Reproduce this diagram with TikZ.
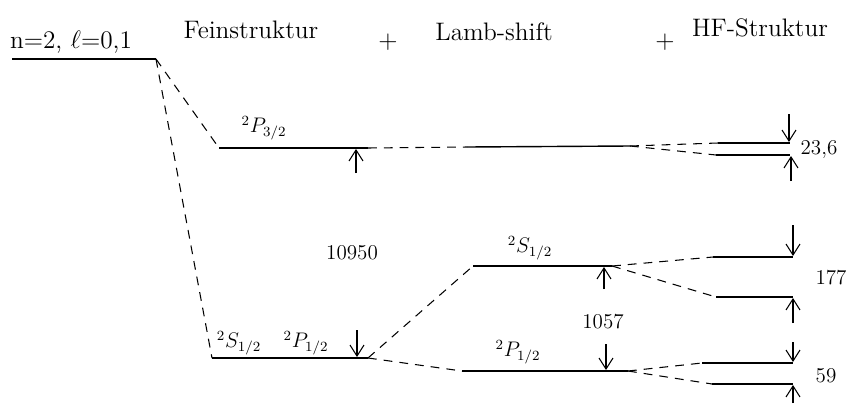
\documentclass[tikz,border=0pt]{standalone}
\usepackage{amsmath}
\usepackage{tikz}
\usetikzlibrary{arrows.meta,positioning}

\begin{document}
\begin{tikzpicture}[
  x=0.02cm, y=-0.02cm,
  level/.style={line width=0.8pt},
  link/.style={line width=0.6pt, dash pattern=on 5pt off 4pt},
  arrow/.style={-{Straight Barb[length=2.2mm,width=2.8mm]}, line width=0.6pt},
  title/.style={font=\Large},
  lbl/.style={font=\large}
]
  \useasboundingbox (0,0) rectangle (852,403);

  % Titles
  \node[title] (n2lbl) at (71,42) {n=2, $\ell$=0,1};
  \node[title] (fs) at (251,30) {Feinstruktur};
  \node[title] (plus1) at (388,42) {+};
  \node[title] (lamb) at (494,32) {Lamb-shift};
  \node[title] (plus2) at (665,42) {+};
  \node[title] (hf) at (760,28) {HF-Struktur};

  % Level ends
  \coordinate (n2a) at (12,59);    \coordinate (n2b) at (156,59);
  \coordinate (p3a) at (219,148);  \coordinate (p3b) at (368,148);
  \coordinate (p3La) at (467,147); \coordinate (p3Lb) at (630,146);
  \coordinate (p3Ha) at (718,143); \coordinate (p3Hb) at (790,143);
  \coordinate (p3Hc) at (716,155); \coordinate (p3Hd) at (790,155);
  \coordinate (spa) at (212,358);  \coordinate (spb) at (368,358);
  \coordinate (sLa) at (473,266);  \coordinate (sLb) at (612,266);
  \coordinate (pLa) at (462,371);  \coordinate (pLb) at (628,371);
  \coordinate (sHa) at (713,257);  \coordinate (sHb) at (793,257);
  \coordinate (sHc) at (716,297);  \coordinate (sHd) at (793,297);
  \coordinate (pHa) at (702,363);  \coordinate (pHb) at (793,363);
  \coordinate (pHc) at (712,384);  \coordinate (pHd) at (793,384);

  % Levels
  \draw[level] (n2a) -- (n2b);
  \draw[level] (p3a) -- (p3b);
  \draw[level] (p3La) -- (p3Lb);
  \draw[level] (p3Ha) -- (p3Hb);
  \draw[level] (p3Hc) -- (p3Hd);
  \draw[level] (spa) -- (spb);
  \draw[level] (sLa) -- (sLb);
  \draw[level] (pLa) -- (pLb);
  \draw[level] (sHa) -- (sHb);
  \draw[level] (sHc) -- (sHd);
  \draw[level] (pHa) -- (pHb);
  \draw[level] (pHc) -- (pHd);

  % Dashed links
  \draw[link] (n2b) -- (p3a);
  \draw[link] (n2b) -- (spa);
  \draw[link] (p3b) -- (p3La);
  \draw[link] (p3Lb) -- (p3Ha);
  \draw[link] (p3Lb) -- (p3Hc);
  \draw[link] (spb) -- (sLa);
  \draw[link] (spb) -- (pLa);
  \draw[link] (sLb) -- (sHa);
  \draw[link] (sLb) -- (sHc);
  \draw[link] (pLb) -- (pHa);
  \draw[link] (pLb) -- (pHc);

  % Arrows
  \draw[arrow] (356,173) -- (356,149);
  \draw[arrow] (789,114) -- (789,142);
  \draw[arrow] (791,181) -- (791,156);
  \draw[arrow] (357,330) -- (357,357);
  \draw[arrow] (604,289) -- (604,267);
  \draw[arrow] (606,344) -- (606,370);
  \draw[arrow] (793,225) -- (793,256);
  \draw[arrow] (793,323) -- (793,298);
  \draw[arrow] (793,342) -- (793,362);
  \draw[arrow] (793,403) -- (793,385);

  % Term labels
  \node[lbl] (p32) at (264,128) {$^2P_{3/2}$};
  \node[lbl] (s12) at (239,343) {$^2S_{1/2}$};
  \node[lbl] (p12) at (306,343) {$^2P_{1/2}$};
  \node[lbl] (s12L) at (530,248) {$^2S_{1/2}$};
  \node[lbl] (p12L) at (518,352) {$^2P_{1/2}$};

  % Values
  \node[lbl] (v10950) at (352,253) {10950};
  \node[lbl] (v1057) at (603,322) {1057};
  \node[lbl] (v236) at (819,150) {23,6};
  \node[lbl] (v177) at (831,278) {177};
  \node[lbl] (v59) at (826,376) {59};
\end{tikzpicture}
\end{document}
